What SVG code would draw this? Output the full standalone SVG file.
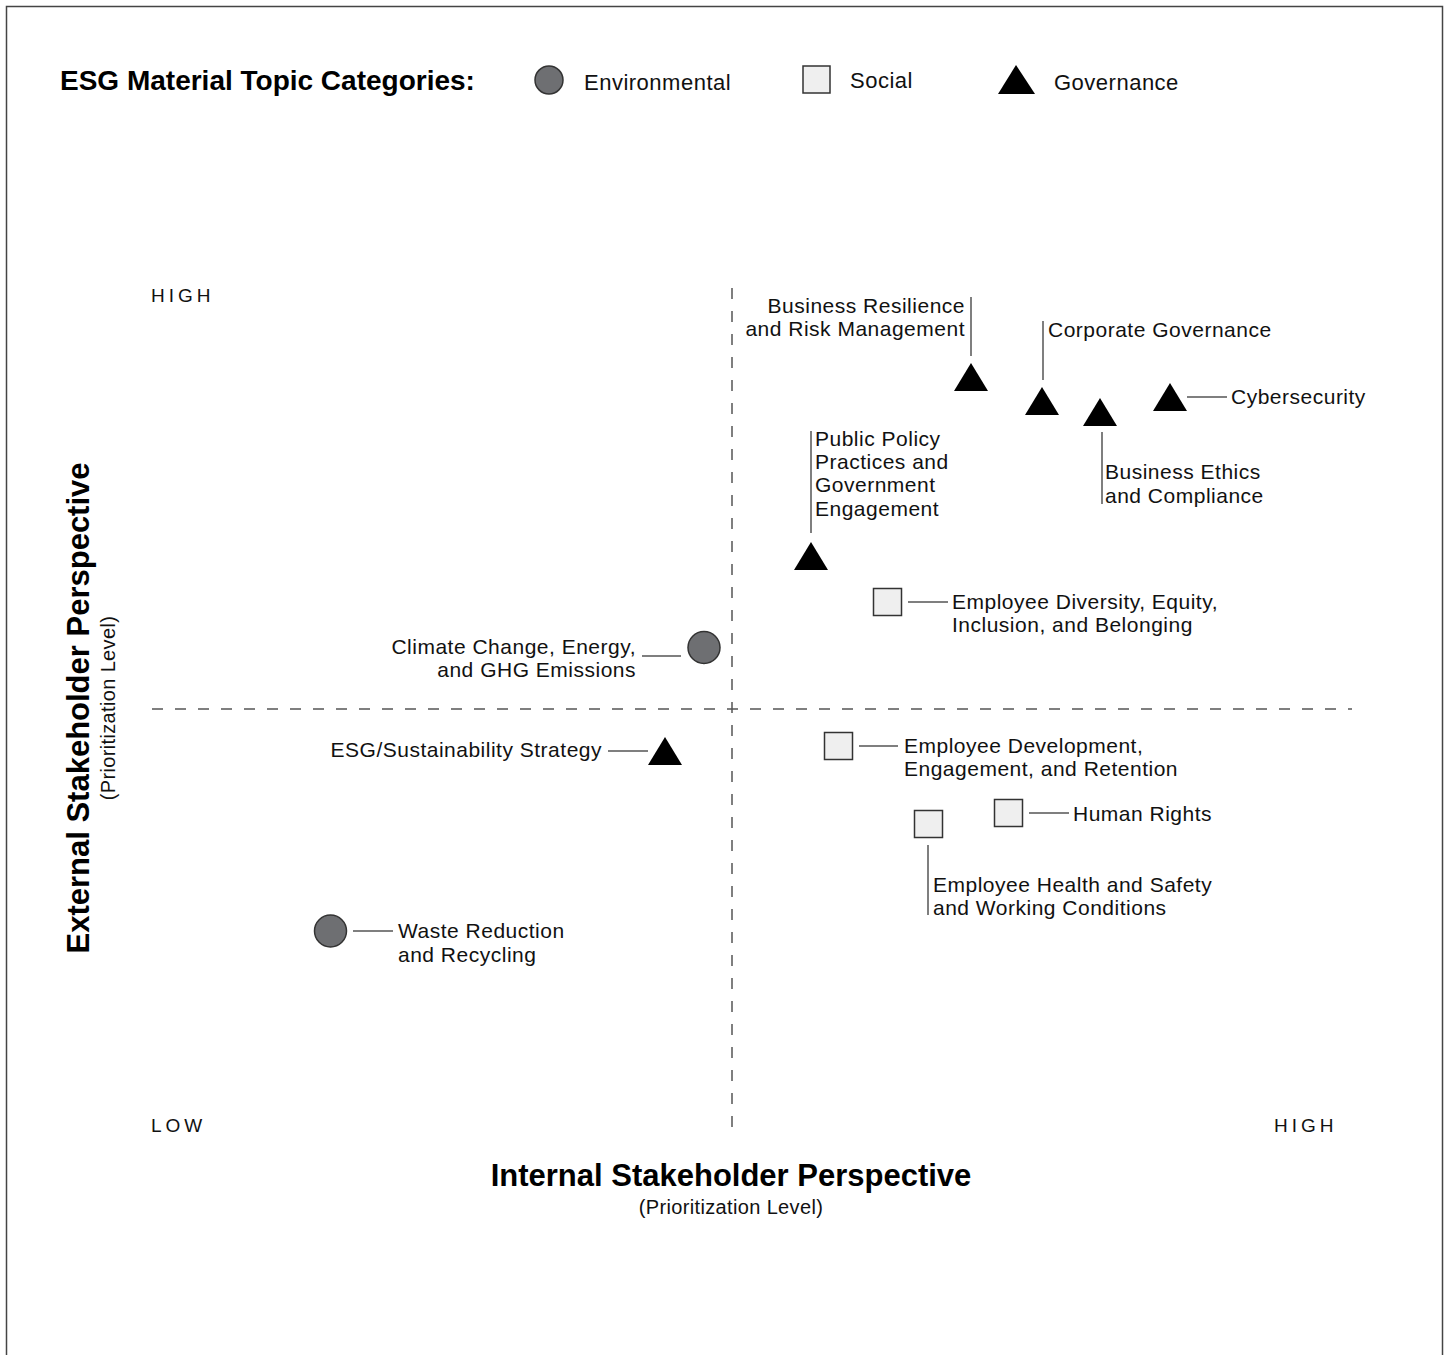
<svg xmlns="http://www.w3.org/2000/svg" width="1449" height="1355" viewBox="0 0 1449 1355">
<style>
.t{font-family:"Liberation Sans",Arial,sans-serif;font-size:21px;letter-spacing:0.5px;fill:#111}
.lg{font-family:"Liberation Sans",Arial,sans-serif;font-size:22px;letter-spacing:0.5px;fill:#111}
.sub{font-family:"Liberation Sans",Arial,sans-serif;font-size:20px;letter-spacing:0.35px;fill:#111;text-anchor:middle}
.r{text-anchor:end}
.ax{font-family:"Liberation Sans",Arial,sans-serif;font-size:19px;fill:#111;letter-spacing:4px}
.ttl{font-family:"Liberation Sans",Arial,sans-serif;font-weight:bold;fill:#000}
.tri{fill:#000}
.env{fill:#6e6f72;stroke:#333;stroke-width:1.5}
.soc{fill:#efefef;stroke:#333;stroke-width:1.5}
.ln{stroke:#555;stroke-width:1.5;fill:none}
.dash{stroke:#555;stroke-width:1.5;stroke-dasharray:11 12;fill:none}
</style>
<rect x="0" y="0" width="1449" height="1355" fill="#fff"/>
<rect x="6.5" y="6.5" width="1436" height="1360" fill="none" stroke="#444" stroke-width="1.5"/>

<g id="legend">
<text class="ttl" x="60" y="90" font-size="28" letter-spacing="0">ESG Material Topic Categories:</text>
<circle class="env" cx="549" cy="80" r="14"/>
<text class="lg" x="584" y="90">Environmental</text>
<rect class="soc" x="803" y="66" width="27" height="27"/>
<text class="lg" x="850" y="88">Social</text>
<polygon class="tri" points="1016,65 998,94 1035,94"/>
<text class="lg" x="1054" y="90">Governance</text>
</g>

<g id="axes">
<line class="dash" x1="152" y1="709" x2="1352" y2="709"/>
<line class="dash" x1="732" y1="288" x2="732" y2="1133"/>
<text class="ax" x="151" y="302">HIGH</text>
<text class="ax" x="151" y="1132">LOW</text>
<text class="ax" x="1274" y="1132">HIGH</text>
<text class="ttl" x="731" y="1186" font-size="31" text-anchor="middle" letter-spacing="0">Internal Stakeholder Perspective</text>
<text class="sub" x="731" y="1214">(Prioritization Level)</text>
<text class="ttl" transform="translate(89,708) rotate(-90)" font-size="31" text-anchor="middle" letter-spacing="0">External Stakeholder Perspective</text>
<text class="sub" transform="translate(115,708) rotate(-90)">(Prioritization Level)</text>
</g>

<g id="connectors">
<line class="ln" x1="971" y1="297" x2="971" y2="356"/>
<line class="ln" x1="1043" y1="321" x2="1043" y2="380"/>
<line class="ln" x1="1187" y1="397" x2="1227" y2="397"/>
<line class="ln" x1="1102" y1="432" x2="1102" y2="504"/>
<line class="ln" x1="811" y1="431" x2="811" y2="533"/>
<line class="ln" x1="908" y1="602" x2="948" y2="602"/>
<line class="ln" x1="642" y1="656" x2="681" y2="656"/>
<line class="ln" x1="608" y1="751" x2="648" y2="751"/>
<line class="ln" x1="859" y1="746" x2="898" y2="746"/>
<line class="ln" x1="1029" y1="813" x2="1069" y2="813"/>
<line class="ln" x1="928" y1="845" x2="928" y2="915"/>
<line class="ln" x1="353" y1="931" x2="393" y2="931"/>
</g>

<g id="business-resilience">
<polygon class="tri" points="971,363 954,391 988,391"/>
<text class="t r" x="965" y="313" letter-spacing="0">Business Resilience</text>
<text class="t r" x="965" y="336" letter-spacing="0">and Risk Management</text>
</g>
<g id="corporate-governance">
<polygon class="tri" points="1042,387 1025,415 1059,415"/>
<text class="t" x="1048" y="337">Corporate Governance</text>
</g>
<g id="cybersecurity">
<polygon class="tri" points="1170,383 1153,411 1187,411"/>
<text class="t" x="1231" y="404">Cybersecurity</text>
</g>
<g id="business-ethics">
<polygon class="tri" points="1100,398 1083,426 1117,426"/>
<text class="t" x="1105" y="479">Business Ethics</text>
<text class="t" x="1105" y="503">and Compliance</text>
</g>
<g id="public-policy">
<polygon class="tri" points="811,542 794,570 828,570"/>
<text class="t" x="815" y="446">Public Policy</text>
<text class="t" x="815" y="469">Practices and</text>
<text class="t" x="815" y="492">Government</text>
<text class="t" x="815" y="516">Engagement</text>
</g>
<g id="employee-diversity">
<rect class="soc" x="873.5" y="588.5" width="28" height="27"/>
<text class="t" x="952" y="609">Employee Diversity, Equity,</text>
<text class="t" x="952" y="632">Inclusion, and Belonging</text>
</g>
<g id="climate-change">
<circle class="env" cx="704" cy="647.5" r="16"/>
<text class="t r" x="636" y="654">Climate Change, Energy,</text>
<text class="t r" x="636" y="677">and GHG Emissions</text>
</g>
<g id="esg-strategy">
<polygon class="tri" points="665,737 648,765 682,765"/>
<text class="t r" x="602" y="757">ESG/Sustainability Strategy</text>
</g>
<g id="employee-development">
<rect class="soc" x="824.5" y="732.5" width="28" height="27"/>
<text class="t" x="904" y="753">Employee Development,</text>
<text class="t" x="904" y="776">Engagement, and Retention</text>
</g>
<g id="human-rights">
<rect class="soc" x="994.5" y="799.5" width="28" height="27"/>
<text class="t" x="1073" y="821">Human Rights</text>
</g>
<g id="employee-health">
<rect class="soc" x="914.5" y="810.5" width="28" height="27"/>
<text class="t" x="933" y="892">Employee Health and Safety</text>
<text class="t" x="933" y="915">and Working Conditions</text>
</g>
<g id="waste-reduction">
<circle class="env" cx="330.5" cy="931" r="16"/>
<text class="t" x="398" y="938">Waste Reduction</text>
<text class="t" x="398" y="962">and Recycling</text>
</g>
</svg>
